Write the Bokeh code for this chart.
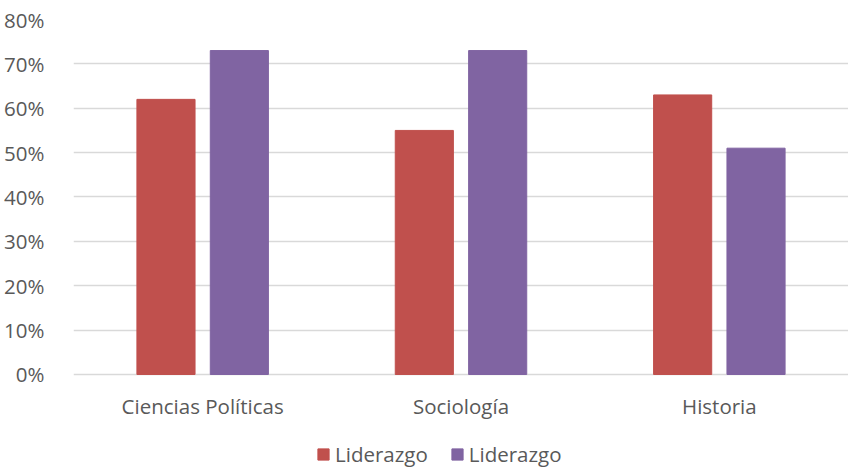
from bokeh.plotting import figure
from bokeh.models import (FactorRange, Range1d, Legend, LegendItem, PrintfTickFormatter,
                          FixedTicker, ColumnDataSource)
from bokeh.core.properties import value
from bokeh.transform import dodge
from bokeh.embed import file_html
from bokeh.resources import INLINE

categories = ["Ciencias Políticas", "Sociología", "Historia"]
series1_name = "Liderazgo"
series2_name = "Liderazgo"
series1_values = [62, 55, 63]
series2_values = [73, 73, 51]
y_ticks = [0, 10, 20, 30, 40, 50, 60, 70, 80]

FONT = "Open Sans"
FS = "20.5px"
TXT = "#595959"

src = ColumnDataSource(dict(cat=categories, s1=series1_values, s2=series2_values))
lab_src = ColumnDataSource(dict(cat=categories, y=[-7.0] * len(categories)))

p = figure(width=848, height=471, x_range=FactorRange(*categories), y_range=Range1d(-21.86, 80),
           output_backend="svg", toolbar_location=None,
           min_border_left=73, min_border_right=0, min_border_top=19, min_border_bottom=0)
p.outline_line_color = None
p.background_fill_color = "white"
p.border_fill_color = "white"
p.xaxis.visible = False

r1 = p.vbar(x=dodge("cat", -0.142, range=p.x_range), top="s1", width=0.225, source=src,
            fill_color="#C0504D", line_color="#C0504D")
r2 = p.vbar(x=dodge("cat", 0.142, range=p.x_range), top="s2", width=0.225, source=src,
            fill_color="#8064A2", line_color="#8064A2")

p.text(x="cat", y="y", text="cat", source=lab_src, text_align="center", text_baseline="middle",
       text_font=value(FONT), text_font_size=FS, text_color=TXT)

p.xgrid.grid_line_color = None
p.ygrid.grid_line_color = "#D9D9D9"
p.ygrid.grid_line_width = 1.5
p.yaxis.ticker = FixedTicker(ticks=y_ticks)
p.yaxis.formatter = PrintfTickFormatter(format="%d%%")

ax = p.yaxis[0]
ax.axis_line_color = None
ax.major_tick_line_color = None
ax.minor_tick_line_color = None
ax.major_label_text_font = FONT
ax.major_label_text_font_size = FS
ax.major_label_text_color = TXT
ax.major_label_standoff = 23

legend = Legend(items=[LegendItem(label=series1_name, renderers=[r1]),
                       LegendItem(label=series2_name, renderers=[r2])],
                orientation="horizontal", location=(243, 3),
                label_text_font=FONT, label_text_font_size=FS, label_text_color=TXT,
                glyph_width=14, glyph_height=14, label_standoff=5, spacing=22,
                label_height=20, padding=0, margin=0, border_line_color=None,
                background_fill_alpha=0)
p.add_layout(legend, "center")

open("out.html", "w").write(file_html(p, INLINE))
